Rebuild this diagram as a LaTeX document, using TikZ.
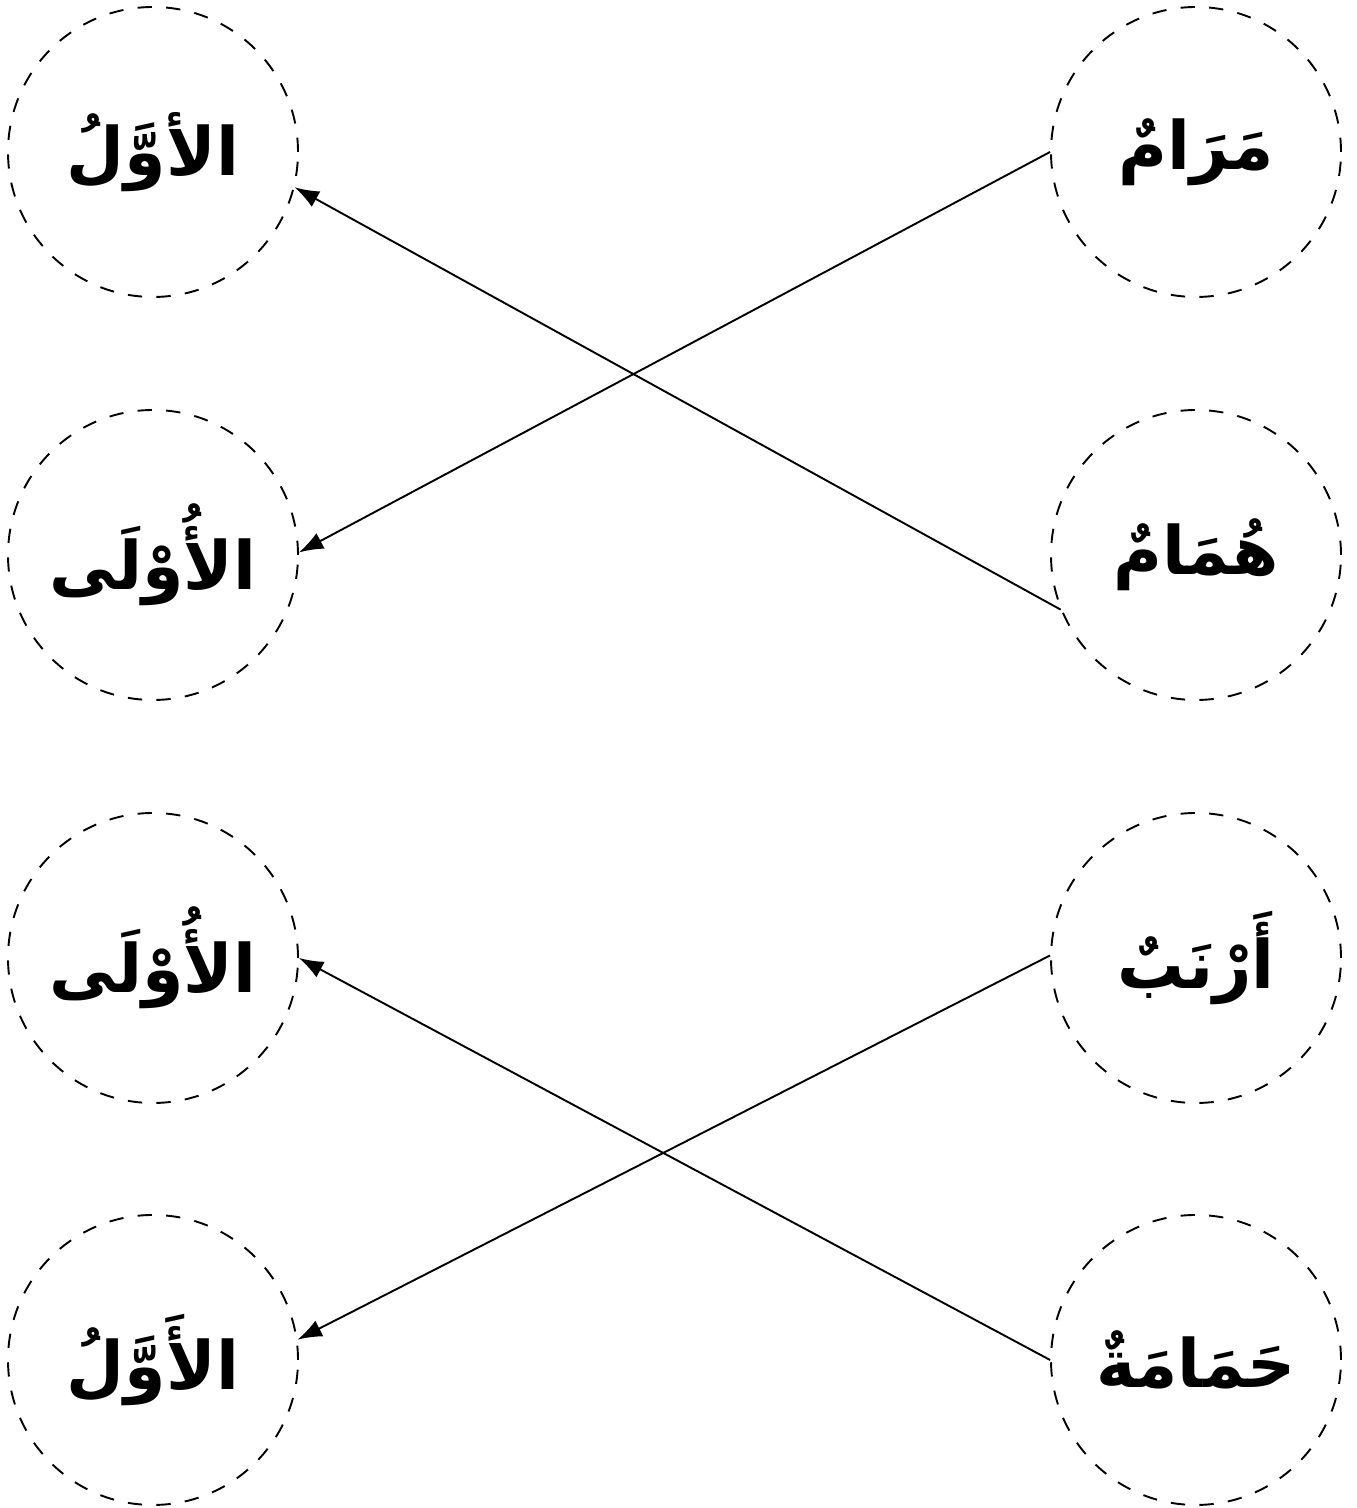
\documentclass[tikz,border=0pt]{standalone}
\usepackage{fontspec}
\usetikzlibrary{arrows.meta}
\newfontfamily\arabicfont[Script=Arabic]{DejaVu Sans}
\TeXXeTstate=1
\newcommand{\arword}[1]{\arabicfont\beginR #1\endR}
\tikzset{
  word/.style={draw,circle,dashed,minimum size=2.137cm,inner sep=0pt,
    font=\bfseries\fontsize{14}{17}\selectfont},
  link/.style={-{Latex[length=1.8mm,width=1.3mm]}}
}

\begin{document}
\begin{tikzpicture}
  \useasboundingbox (0,0) rectangle (10,-11.113);
  % left column
  \node[word] (l1) at (1.1275,-1.1201) {\arword{الأوَّلُ}};
  \node[word] (l2) at (1.1275,-4.0899) {\arword{الأُوْلَى}};
  \node[word] (l3) at (1.1275,-7.0597) {\arword{الأُوْلَى}};
  \node[word] (l4) at (1.1275,-10.022) {\arword{الأَوَّلُ}};
  % right column
  \node[word] (r1) at (8.8136,-1.1201) {\arword{مَرَامٌ}};
  \node[word] (r2) at (8.8136,-4.0899) {\arword{هُمَامٌ}};
  \node[word] (r3) at (8.8136,-7.0597) {\arword{أَرْنَبٌ}};
  \node[word] (r4) at (8.8136,-10.022) {\arword{حَمَامَةٌ}};
  % matches
  \draw[link] (r1.west) -- (l2.1);
  \draw[link] (r2.202) -- (l1.-14);
  \draw[link] (r3.179) -- (l4.8);
  \draw[link] (r4.west) -- (l3.east);
\end{tikzpicture}
\end{document}
